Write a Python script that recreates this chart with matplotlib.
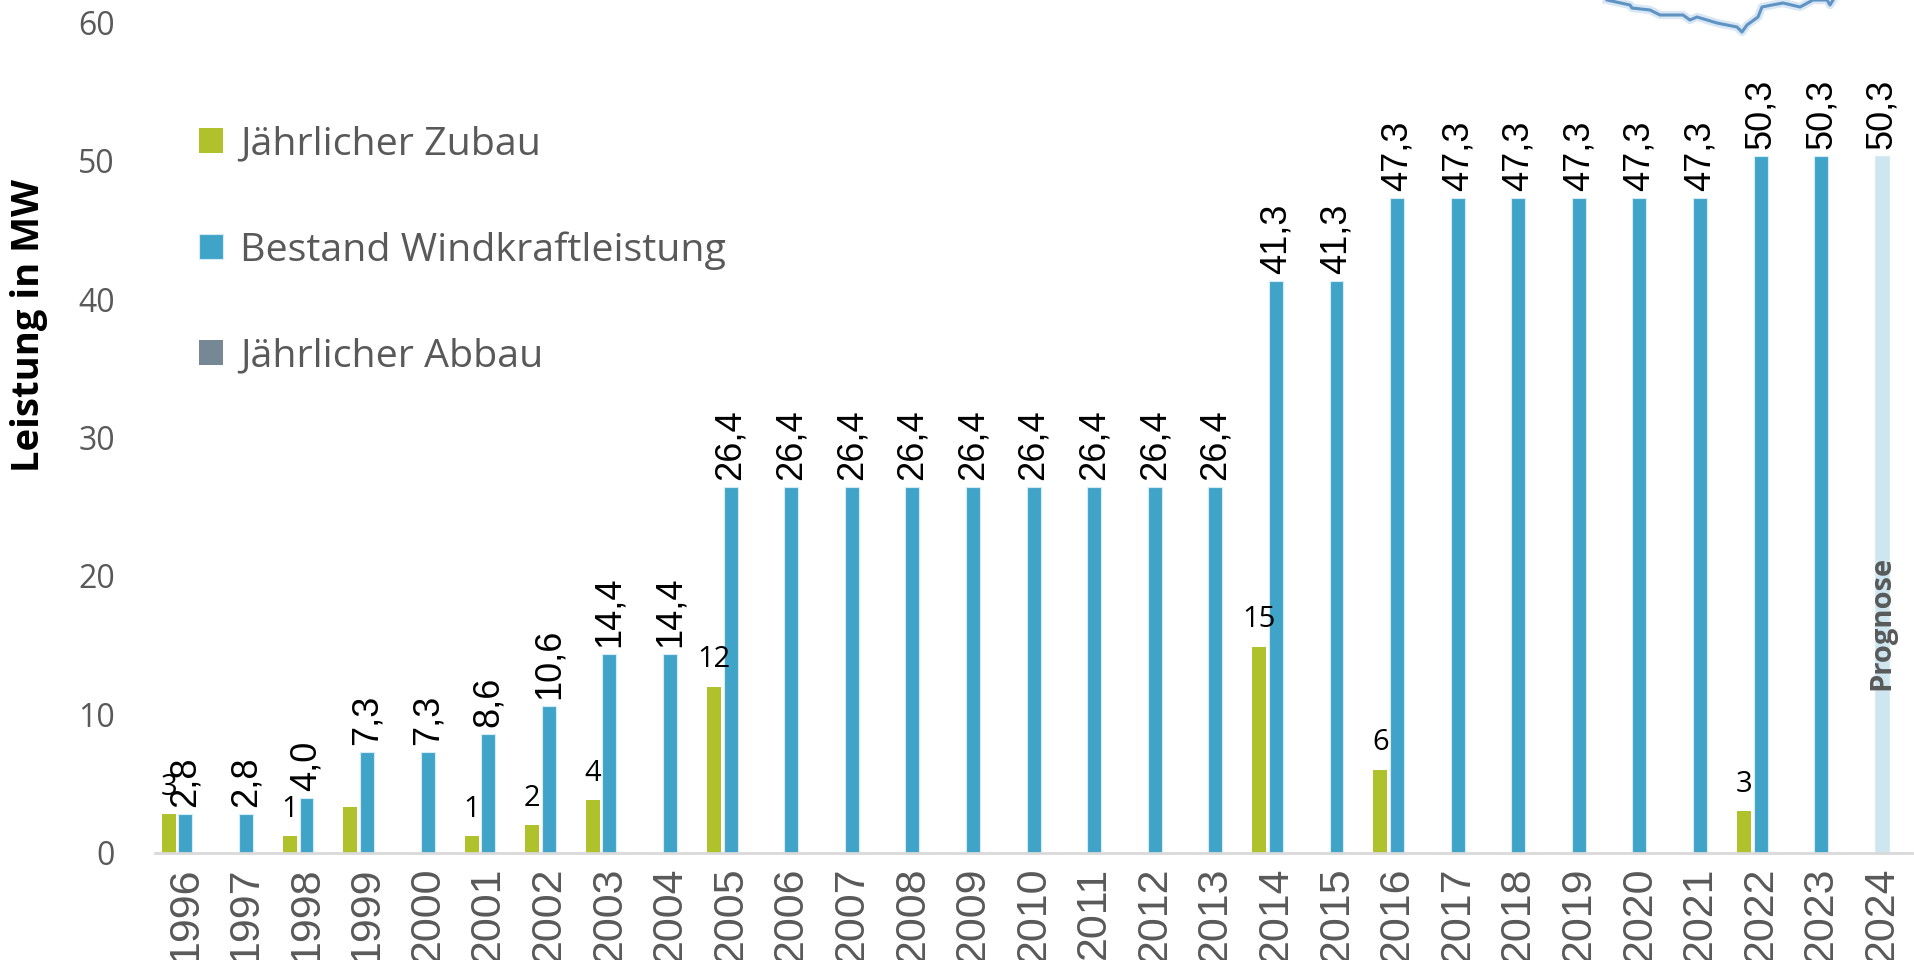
import matplotlib.pyplot as plt
import numpy as np

years = [str(y) for y in range(1996, 2025)]
bestand = [2.8, 2.8, 4.0, 7.3, 7.3, 8.6, 10.6, 14.4, 14.4,
           26.4, 26.4, 26.4, 26.4, 26.4, 26.4, 26.4, 26.4, 26.4,
           41.3, 41.3, 47.3, 47.3, 47.3, 47.3, 47.3, 47.3,
           50.3, 50.3, 50.3]
zubau = [2.8, 0, 1.2, 3.3, 0, 1.2, 2.0, 3.8, 0, 12.0,
         0, 0, 0, 0, 0, 0, 0, 0, 14.9, 0, 6.0,
         0, 0, 0, 0, 0, 3.0, 0, 0]
# Beschriftung Zubau (1999 ohne Label wie im Original)
zubau_labels = ["3", "", "1", "", "", "1", "2", "4", "", "12",
                "", "", "", "", "", "", "", "", "15", "", "6",
                "", "", "", "", "", "3", "", ""]
abbau = [0] * len(years)
prognose_idx = len(years) - 1

# Rest der Landkarte oben rechts (nur Dekoration, Pixel der Vorlage)
karte_x = [1607, 1630, 1632, 1650, 1660, 1683, 1690, 1697, 1717, 1737, 1742,
           1747, 1758, 1762, 1772, 1783, 1800, 1813, 1827, 1830, 1833]
karte_y = [0, 5, 8, 10, 15, 15, 20, 17, 23, 27, 32,
           25, 17, 7, 5, 3, 7, 0, 0, 5, 0]

c_green = "#AFC22C"
c_blue = "#40A3C8"
c_gray = "#768894"
c_prog = "#CDE6F0"
c_text = "#595959"

fig = plt.figure(figsize=(19.14, 9.6), dpi=100)
ax = fig.add_axes([0.081, 0.1115, 0.918, 0.8655])

x = np.arange(len(years))
w = 0.23
off = 0.275

b_zu = ax.bar(x - off, zubau, w, color=c_green, label="Jährlicher Zubau")
blue_cols = [c_blue] * len(years)
blue_cols[prognose_idx] = c_prog
b_be = ax.bar(x, bestand, w, color=blue_cols, edgecolor="#D6ECF4", linewidth=0.8,
              label="Bestand Windkraftleistung")
b_ab = ax.bar(x + off, abbau, w, color=c_gray, label="Jährlicher Abbau")

for xi, v in zip(x, bestand):
    ax.annotate(f"{v:.1f}".replace(".", ","), (xi, v), xytext=(0, 5),
                textcoords="offset points", rotation=90, ha="center", va="bottom",
                fontsize=26, family="Liberation Sans", color="black")

for xi, v, lab in zip(x, zubau, zubau_labels):
    if lab:
        ax.annotate(lab, (xi - off, v), xytext=(0, 9), textcoords="offset points",
                    ha="center", va="bottom", fontsize=21, family="Open Sans",
                    color="black")

ax.text(prognose_idx, 16.6, "Prognose", rotation=90, ha="center", va="center",
        fontsize=21, fontweight="bold",
        family=["Liberation Sans Narrow", "Open Sans"], color=c_text)

ax.set_xlim(-0.5, len(years) - 0.5)
ax.set_ylim(0, 60)
ax.set_xticks(x)
ax.set_xticklabels(years, rotation=90, fontsize=31, family="Liberation Sans",
                   color=c_text)
ax.set_yticks(range(0, 61, 10))
ax.set_yticklabels([str(t) for t in range(0, 61, 10)], fontsize=23,
                   family="Open Sans", color=c_text)
ax.tick_params(axis="both", length=0)
ax.tick_params(axis="x", pad=10)
ax.tick_params(axis="y", pad=29)

for s in ["top", "right", "left"]:
    ax.spines[s].set_visible(False)
ax.spines["bottom"].set_color("#D9D9D9")
ax.spines["bottom"].set_linewidth(2)

ax.set_ylabel("Leistung in MW", fontsize=27.5, fontweight="bold", family="Open Sans",
              color="black")
ax.yaxis.set_label_coords(-0.061, 0.635)

leg = ax.legend(handles=[b_zu, b_be, b_ab], loc="upper left",
                bbox_to_anchor=(0.016, 0.895), frameon=False,
                prop={"family": "Open Sans", "size": 28.4},
                handlelength=0.6, handleheight=0.6, handletextpad=0.45,
                labelspacing=1.72, borderaxespad=0)
for t in leg.get_texts():
    t.set_color(c_text)

kx = [v / 1914 for v in karte_x]
ky = [1 - v / 960 for v in karte_y]
fig.add_artist(plt.Line2D(kx, ky, color="#BFD8EC", lw=6, alpha=0.6,
                          solid_joinstyle="round"))
fig.add_artist(plt.Line2D(kx, ky, color="#5F93C4", lw=2.2,
                          solid_joinstyle="round"))

fig.savefig("out.png", dpi=100)
